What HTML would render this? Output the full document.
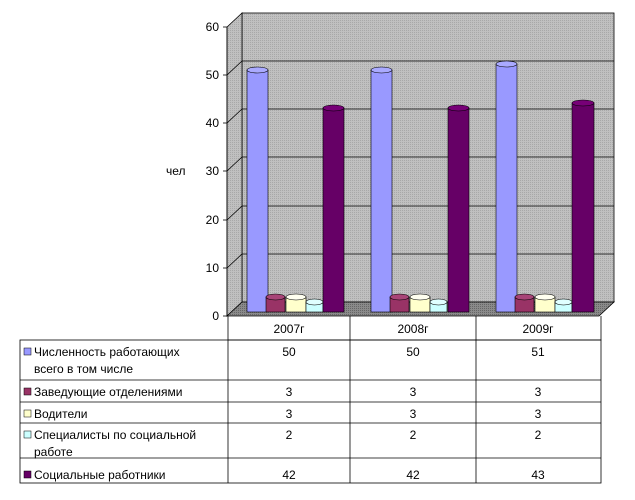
<!DOCTYPE html>
<html><head><meta charset="utf-8"><style>
body{margin:0;background:#fff;}
svg{display:block;font-family:"Liberation Sans",sans-serif;font-size:12px;}
</style></head><body>
<svg width="635" height="500" viewBox="0 0 635 500">
<defs>
<pattern id="dots" width="2" height="2" patternUnits="userSpaceOnUse">
<rect width="2" height="2" fill="#c0c0c0"/><rect width="1" height="1" fill="#a8a8a8"/>
</pattern>
<pattern id="fl" width="2" height="2" patternUnits="userSpaceOnUse">
<rect width="2" height="2" fill="#8a8a8a"/><rect width="1" height="1" fill="#666"/>
</pattern>
</defs>
<rect x="242" y="13" width="372" height="289" fill="url(#dots)" stroke="#000" stroke-width="0.8"/>
<polygon points="227,27 242,13 242,302 227,316" fill="url(#dots)" stroke="#000" stroke-width="0.8"/>
<polygon points="227,316 242,302 614,302 599,316" fill="url(#fl)" stroke="#000" stroke-width="0.8"/>
<g stroke="#000" stroke-width="0.8">
<line x1="227" y1="268" x2="242" y2="254"/><line x1="242" y1="254" x2="614" y2="254"/>
<line x1="227" y1="220" x2="242" y2="206"/><line x1="242" y1="206" x2="614" y2="206"/>
<line x1="227" y1="171" x2="242" y2="157"/><line x1="242" y1="157" x2="614" y2="157"/>
<line x1="227" y1="123" x2="242" y2="109"/><line x1="242" y1="109" x2="614" y2="109"/>
<line x1="227" y1="75" x2="242" y2="61"/><line x1="242" y1="61" x2="614" y2="61"/>
<line x1="227" y1="27" x2="227" y2="316"/>
<line x1="223" y1="316" x2="227" y2="316"/><line x1="223" y1="268" x2="227" y2="268"/>
<line x1="223" y1="220" x2="227" y2="220"/><line x1="223" y1="171" x2="227" y2="171"/>
<line x1="223" y1="123" x2="227" y2="123"/><line x1="223" y1="75" x2="227" y2="75"/>
<line x1="223" y1="27" x2="227" y2="27"/>
</g>
<g text-anchor="end" fill="#000">
<text x="219" y="320">0</text><text x="219" y="272">10</text><text x="219" y="224">20</text>
<text x="219" y="175">30</text><text x="219" y="127">40</text><text x="219" y="79">50</text><text x="219" y="31">60</text>
</g>
<text x="166" y="175">чел</text>
<g stroke="#000" stroke-width="0.6">
<rect x="247" y="70" width="21" height="242" fill="#9999ff"/><ellipse cx="257.5" cy="70" rx="10.5" ry="3" fill="#aaaaff"/>
<rect x="266" y="297" width="19" height="15" fill="#993366"/><ellipse cx="275.5" cy="297" rx="9.5" ry="3" fill="#a84477"/>
<rect x="286" y="297" width="20" height="15" fill="#ffffcc"/><ellipse cx="296" cy="297" rx="10" ry="3" fill="#fffff0"/>
<rect x="306" y="302" width="17" height="10" fill="#ccffff"/><ellipse cx="314.5" cy="302" rx="8.5" ry="3" fill="#e0ffff"/>
<rect x="323" y="108" width="21" height="204" fill="#660066"/><ellipse cx="333.5" cy="108" rx="10.5" ry="3" fill="#770077"/>
<rect x="371" y="70" width="21" height="242" fill="#9999ff"/><ellipse cx="381.5" cy="70" rx="10.5" ry="3" fill="#aaaaff"/>
<rect x="390" y="297" width="19" height="15" fill="#993366"/><ellipse cx="399.5" cy="297" rx="9.5" ry="3" fill="#a84477"/>
<rect x="410" y="297" width="20" height="15" fill="#ffffcc"/><ellipse cx="420" cy="297" rx="10" ry="3" fill="#fffff0"/>
<rect x="430" y="302" width="17" height="10" fill="#ccffff"/><ellipse cx="438.5" cy="302" rx="8.5" ry="3" fill="#e0ffff"/>
<rect x="448" y="108" width="21" height="204" fill="#660066"/><ellipse cx="458.5" cy="108" rx="10.5" ry="3" fill="#770077"/>
<rect x="496" y="64" width="21" height="248" fill="#9999ff"/><ellipse cx="506.5" cy="64" rx="10.5" ry="3" fill="#aaaaff"/>
<rect x="515" y="297" width="19" height="15" fill="#993366"/><ellipse cx="524.5" cy="297" rx="9.5" ry="3" fill="#a84477"/>
<rect x="535" y="297" width="20" height="15" fill="#ffffcc"/><ellipse cx="545" cy="297" rx="10" ry="3" fill="#fffff0"/>
<rect x="555" y="302" width="17" height="10" fill="#ccffff"/><ellipse cx="563.5" cy="302" rx="8.5" ry="3" fill="#e0ffff"/>
<rect x="572" y="103" width="22" height="209" fill="#660066"/><ellipse cx="583" cy="103" rx="11" ry="3" fill="#770077"/>
</g>
<g stroke="#000" stroke-width="0.8" fill="none">
<polyline points="228,316 228,340 601,340 601,316"/>
<line x1="350" y1="316" x2="350" y2="483"/><line x1="476" y1="316" x2="476" y2="483"/>
<rect x="20" y="340" width="581" height="143"/>
<line x1="228" y1="340" x2="228" y2="483"/>
<line x1="20" y1="380" x2="601" y2="380"/><line x1="20" y1="402" x2="601" y2="402"/>
<line x1="20" y1="423" x2="601" y2="423"/><line x1="20" y1="458" x2="601" y2="458"/>
</g>
<g text-anchor="middle">
<text x="289" y="333">2007г</text><text x="413" y="333">2008г</text><text x="538" y="333">2009г</text>
<text x="289" y="356">50</text><text x="413" y="356">50</text><text x="538" y="356">51</text>
<text x="289" y="396">3</text><text x="413" y="396">3</text><text x="538" y="396">3</text>
<text x="289" y="418">3</text><text x="413" y="418">3</text><text x="538" y="418">3</text>
<text x="289" y="439">2</text><text x="413" y="439">2</text><text x="538" y="439">2</text>
<text x="289" y="479">42</text><text x="413" y="479">42</text><text x="538" y="479">43</text>
</g>
<g stroke="#000" stroke-width="0.5">
<rect x="24" y="348" width="7" height="7" fill="#9999ff"/>
<rect x="24" y="388" width="7" height="7" fill="#993366"/>
<rect x="24" y="410" width="7" height="7" fill="#ffffcc"/>
<rect x="24" y="431" width="7" height="7" fill="#ccffff"/>
<rect x="24" y="471" width="7" height="7" fill="#660066"/>
</g>
<text x="34" y="356">Численность работающих</text>
<text x="34" y="373">всего в том числе</text>
<text x="34" y="396">Заведующие отделениями</text>
<text x="34" y="418">Водители</text>
<text x="34" y="439">Специалисты по социальной</text>
<text x="34" y="456">работе</text>
<text x="34" y="479">Социальные работники</text>
</svg>
</body></html>
